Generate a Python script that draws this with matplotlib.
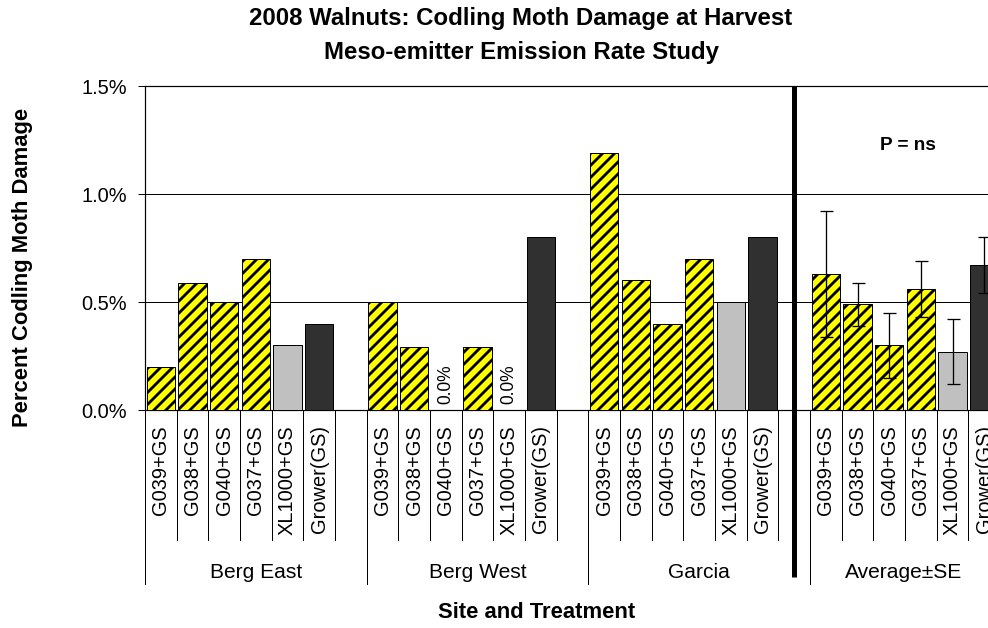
import numpy as np
import matplotlib
matplotlib.use('Agg')
from matplotlib import pyplot as plt
from matplotlib import transforms

plt.rcParams['font.family'] = ['Liberation Sans', 'DejaVu Sans']
plt.rcParams['hatch.linewidth'] = 2.8

# data (percent codling moth damage)
sites = ['Berg East', 'Berg West', 'Garcia', 'Average±SE']
treatments = ['G039+GS', 'G038+GS', 'G040+GS', 'G037+GS', 'XL1000+GS', 'Grower(GS)']
berg_east = [0.20, 0.59, 0.50, 0.70, 0.30, 0.40]
berg_west = [0.50, 0.29, 0.00, 0.29, 0.00, 0.80]
garcia = [1.19, 0.60, 0.40, 0.70, 0.50, 0.80]
average = [0.63, 0.49, 0.30, 0.56, 0.27, 0.67]
average_se = [0.29, 0.10, 0.15, 0.13, 0.15, 0.13]
y_ticks = [0.0, 0.5, 1.0, 1.5]

W, H = 988, 628
fig = plt.figure(figsize=(W / 72, H / 72), dpi=72)
fig.patch.set_facecolor('white')

# axes in pixels: left 145, top 86, bottom 410, right 1000 (past the figure edge)
ax = fig.add_axes([145 / W, 1 - 410 / H, (1000 - 145) / W, (410 - 86) / H])

slot = 7  # 6 bars + 1 empty slot per site
series = [berg_east, berg_west, garcia, average]
face = ['#FFFF00'] * 4 + ['#C0C0C0', '#303030']
hatch = ['//'] * 4 + [None, None]

for g, vals in enumerate(series):
    xs = g * slot + np.arange(len(treatments))
    for i, (x, v) in enumerate(zip(xs, vals)):
        ax.bar(x, v, width=0.9, color=face[i], edgecolor='black', linewidth=1,
               hatch=hatch[i], zorder=3)
        if v == 0:
            ax.text(x, 0.03, '0.0%', rotation=90, ha='center', va='bottom',
                    fontsize=17.5, zorder=4)
    if g == 3:
        ax.errorbar(xs, vals, yerr=average_se, fmt='none', ecolor='black',
                    elinewidth=1.3, capsize=6.5, capthick=1.3, zorder=5)

ax.set_xlim(-0.5, 4 * slot - 1.5)
ax.set_ylim(0, 1.5)
ax.set_yticks(y_ticks)
ax.set_yticklabels(['%.1f%%' % t for t in y_ticks], fontsize=20)
ax.tick_params(axis='y', length=7, width=1, direction='out', pad=11)
ax.set_xticks([])
for t in [0.5, 1.0]:
    ax.axhline(t, color='black', lw=1, zorder=1)
ax.spines['right'].set_visible(False)
for s in ['left', 'bottom', 'top']:
    ax.spines[s].set_color('black')
    ax.spines[s].set_linewidth(1.2)

# category structure below the axis
trans = transforms.blended_transform_factory(ax.transData, fig.transFigure)
fy = lambda py: 1 - py / H
n_slots = 4 * slot - 1
for k in range(n_slots + 1):
    xb = k - 0.5
    bottom = 584 if k % slot == 0 else 540
    ax.plot([xb, xb], [fy(410), fy(bottom)], color='black', lw=1,
            transform=trans, clip_on=False)

for g in range(4):
    for i, lab in enumerate(treatments):
        ax.text(g * slot + i, fy(425), lab, rotation=90, ha='center', va='top',
                fontsize=20, transform=trans)

for g, name in enumerate(sites[:3]):
    ax.text(g * slot + 3, fy(572), name, ha='center', va='center', fontsize=21,
            transform=trans)
fig.text(904 / W, fy(572), sites[3], ha='center', va='center', fontsize=21)

# separator between sites and average
ax.plot([20, 20], [fy(86), fy(577)], color='black', lw=5, transform=trans,
        clip_on=False, solid_capstyle='butt', zorder=6)

ax.text(908 / W, fy(145), 'P = ns', transform=fig.transFigure, ha='center',
        va='center', fontsize=19, fontweight='bold')

fig.text(521 / W, fy(19), '2008 Walnuts: Codling Moth Damage at Harvest',
         ha='center', va='center', fontsize=24, fontweight='bold')
fig.text(521 / W, fy(52), 'Meso-emitter Emission Rate Study',
         ha='center', va='center', fontsize=24, fontweight='bold')
fig.text(23 / W, fy(267), 'Percent Codling Moth Damage', rotation=90,
         ha='center', va='center', fontsize=22, fontweight='bold')
fig.text(537 / W, fy(612), 'Site and Treatment', ha='center', va='center',
         fontsize=22, fontweight='bold')

fig.savefig('out.png', dpi=72)
